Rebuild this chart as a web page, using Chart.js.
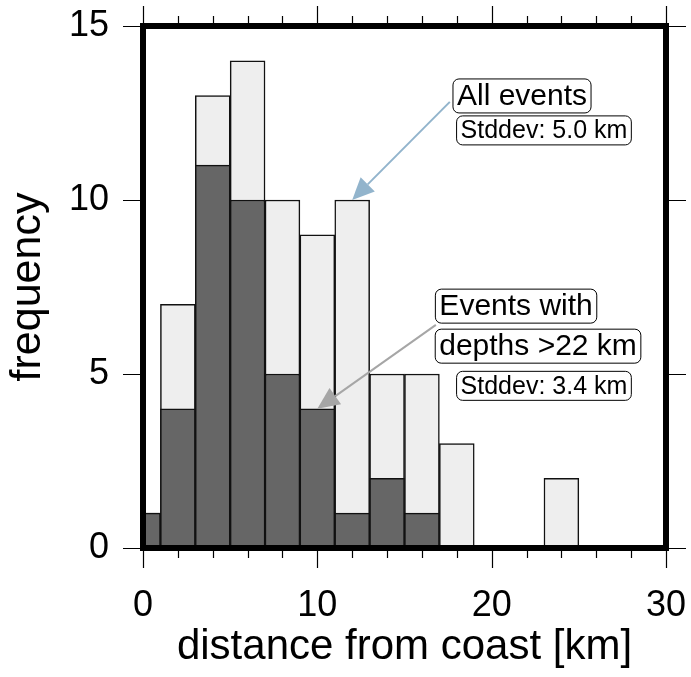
<!DOCTYPE html>
<html>
<head>
<meta charset="utf-8">
<script src="https://cdn.jsdelivr.net/npm/chart.js@4.4.1/dist/chart.umd.min.js"></script>
<style>
  html, body { margin: 0; padding: 0; background: #fff; }
  #wrap { width: 691px; height: 677px; }
</style>
</head>
<body>
<div id="wrap"><canvas id="histChart" width="691" height="677"></canvas></div>
<script>
// histogram bins (2 km wide, centred on even km)
const binCenters = [0, 2, 4, 6, 8, 10, 12, 14, 16, 18, 20, 22, 24]
const allEvents = [1, 7, 13, 14, 10, 9, 10, 5, 5, 3, 0, 0, 2]
const deepEvents = [1, 4, 11, 10, 5, 4, 1, 2, 1, 0, 0, 0, 0]

const xTicks = [0, 10, 20, 30]
const xMinorTicks = [2, 4, 6, 8, 12, 14, 16, 18, 22, 24, 26, 28]
const yTicks = [0, 5, 10, 15]

// annotation boxes: text, x, y (data units, box centre), font size
const noteTexts = ["All events", "Stddev: 5.0 km", "Events with", "depths >22 km", "Stddev: 3.4 km"]
const noteX = [21.74, 23.0, 21.4, 22.66, 23.0]
const noteY = [12.99, 12.0, 6.95, 5.8, 4.66]
const noteSize = [30, 25, 30, 30, 25]

// arrows: from (x0,y0) to tip (x1,y1), data units
const arrowFrom = [[17.6, 12.82], [16.8, 6.41]]
const arrowTo = [[12, 10], [10, 4]]
const arrowColor = ["#92b4cc", "#a6a6a6"]

const FONT = "'Liberation Sans', Arial, Helvetica, sans-serif"

function toPoints(values) {
  return binCenters.map((c, i) => ({ x: c, y: values[i] }))
}

// frame + tick marks on all four sides
const framePlugin = {
  id: "frame",
  afterDatasetsDraw(chart) {
    const { ctx, chartArea: a, scales } = chart
    const xs = scales.x
    const ys = scales.y
    ctx.save()
    ctx.strokeStyle = "#000"
    ctx.lineWidth = 1.2
    ctx.beginPath()
    xTicks.forEach((v) => {
      const px = Math.round(xs.getPixelForValue(v)) + 0.5
      ctx.moveTo(px, a.bottom); ctx.lineTo(px, a.bottom + 20)
      ctx.moveTo(px, a.top); ctx.lineTo(px, a.top - 20)
    })
    xMinorTicks.forEach((v) => {
      const px = Math.round(xs.getPixelForValue(v)) + 0.5
      ctx.moveTo(px, a.bottom); ctx.lineTo(px, a.bottom + 10)
      ctx.moveTo(px, a.top); ctx.lineTo(px, a.top - 10)
    })
    yTicks.forEach((v) => {
      const py = Math.round(ys.getPixelForValue(v)) + 0.5
      ctx.moveTo(a.left, py); ctx.lineTo(a.left - 20, py)
      ctx.moveTo(a.right, py); ctx.lineTo(a.right + 20, py)
    })
    ctx.stroke()
    ctx.lineWidth = 6
    ctx.strokeRect(a.left, a.top, a.right - a.left, a.bottom - a.top)
    ctx.restore()
  },
}

function roundRect(ctx, x, y, w, h, r) {
  ctx.beginPath()
  ctx.moveTo(x + r, y)
  ctx.arcTo(x + w, y, x + w, y + h, r)
  ctx.arcTo(x + w, y + h, x, y + h, r)
  ctx.arcTo(x, y + h, x, y, r)
  ctx.arcTo(x, y, x + w, y, r)
  ctx.closePath()
}

const notesPlugin = {
  id: "notes",
  afterDraw(chart) {
    const { ctx, scales } = chart
    const xs = scales.x
    const ys = scales.y
    ctx.save()
    // arrows
    arrowFrom.forEach((f, i) => {
      const x0 = xs.getPixelForValue(f[0]), y0 = ys.getPixelForValue(f[1])
      const x1 = xs.getPixelForValue(arrowTo[i][0]), y1 = ys.getPixelForValue(arrowTo[i][1])
      const ang = Math.atan2(y1 - y0, x1 - x0)
      const hl = 22, hw = 10
      const bx = x1 - hl * Math.cos(ang), by = y1 - hl * Math.sin(ang)
      ctx.strokeStyle = arrowColor[i]
      ctx.fillStyle = arrowColor[i]
      ctx.lineWidth = 2
      ctx.beginPath()
      ctx.moveTo(x0, y0); ctx.lineTo(bx, by)
      ctx.stroke()
      ctx.beginPath()
      ctx.moveTo(x1, y1)
      ctx.lineTo(bx + hw * Math.sin(ang), by - hw * Math.cos(ang))
      ctx.lineTo(bx - hw * Math.sin(ang), by + hw * Math.cos(ang))
      ctx.closePath()
      ctx.fill()
    })
    // label boxes
    noteTexts.forEach((t, i) => {
      ctx.font = noteSize[i] + "px " + FONT
      const w = ctx.measureText(t).width + 8
      const h = noteSize[i] + 4
      const cx = xs.getPixelForValue(noteX[i]), cy = ys.getPixelForValue(noteY[i])
      roundRect(ctx, cx - w / 2, cy - h / 2, w, h, 6)
      ctx.fillStyle = "#fff"
      ctx.fill()
      ctx.strokeStyle = "#000"
      ctx.lineWidth = 1
      ctx.stroke()
      ctx.fillStyle = "#000"
      ctx.textAlign = "center"
      ctx.textBaseline = "middle"
      ctx.fillText(t, cx, cy + 1)
    })
    ctx.restore()
  },
}

new Chart(document.getElementById("histChart"), {
  type: "bar",
  data: {
    datasets: [
      {
        label: "depths >22 km",
        data: toPoints(deepEvents),
        backgroundColor: "#666666",
        borderColor: "#111",
        borderWidth: 1.5,
        order: 0,
      },
      {
        label: "All events",
        data: toPoints(allEvents),
        backgroundColor: "#eeeeee",
        borderColor: "#111",
        borderWidth: 1.5,
        order: 1,
      },
    ],
  },
  options: {
    responsive: false,
    animation: false,
    layout: { padding: { top: 26, right: 25, left: 0, bottom: 0 } },
    datasets: {
      bar: { grouped: false, barPercentage: 1, categoryPercentage: 1, borderSkipped: false },
    },
    plugins: { legend: { display: false }, tooltip: { enabled: false } },
    scales: {
      x: {
        type: "linear",
        min: 0,
        max: 30,
        offset: false,
        grid: { display: false, drawTicks: false },
        border: { display: false },
        ticks: {
          stepSize: 10,
          padding: 36,
          color: "#000",
          font: { family: FONT, size: 36 },
        },
        title: {
          display: true,
          text: "distance from coast [km]",
          color: "#000",
          font: { family: FONT, size: 42 },
          padding: { top: 0, bottom: 4 },
        },
        afterFit: (s) => {
          s.height = 129
          s.paddingLeft = 0
          s.paddingRight = 0
        },
      },
      y: {
        min: 0,
        max: 15,
        grid: { display: false, drawTicks: false },
        border: { display: false },
        ticks: {
          stepSize: 5,
          padding: 34,
          color: "#000",
          font: { family: FONT, size: 36 },
        },
        title: {
          display: true,
          text: "frequency",
          color: "#000",
          font: { family: FONT, size: 43 },
          padding: { top: 2, bottom: 0 },
        },
        afterFit: (s) => {
          s.width = 143
          s.paddingTop = 0
          s.paddingBottom = 0
        },
      },
    },
  },
  plugins: [framePlugin, notesPlugin],
})
</script>
</body>
</html>
